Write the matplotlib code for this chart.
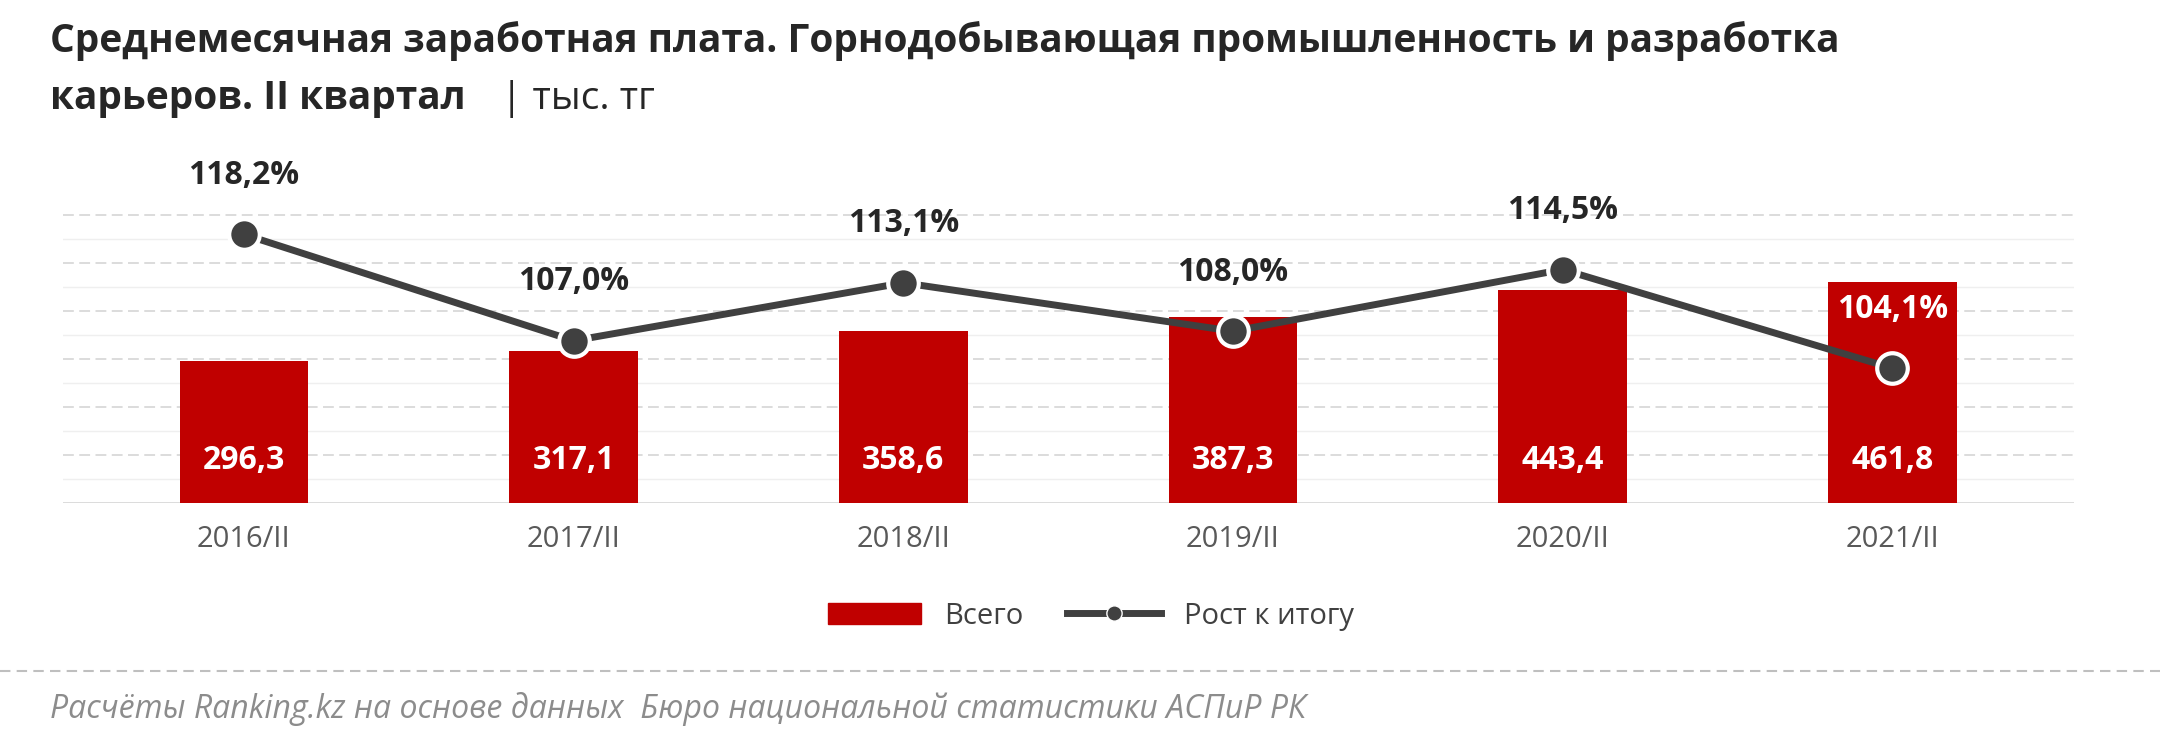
import matplotlib
matplotlib.use("Agg")
import matplotlib.pyplot as plt
from matplotlib.lines import Line2D
from matplotlib.patches import Patch

plt.rcParams['font.family'] = ['Open Sans', 'DejaVu Sans']

categories = ["2016/II", "2017/II", "2018/II", "2019/II", "2020/II", "2021/II"]
totals = [296.3, 317.1, 358.6, 387.3, 443.4, 461.8]
growth = [118.2, 107.0, 113.1, 108.0, 114.5, 104.1]

fig = plt.figure(figsize=(21.6, 7.44), dpi=100)
ax = fig.add_axes([0.029, 0.324, 0.931, 0.389])
x = range(len(categories))
ax.bar(x, totals, width=0.39, color="#C00000", zorder=2)
ax.set_ylim(0, 604)
ax.set_xlim(-0.55, 5.55)
for yv in [100, 200, 300, 400, 500, 600]:
    ax.axhline(yv, color="#D9D9D9", lw=1.3, ls=(0, (6, 3)), zorder=0)
for yv in [50, 150, 250, 350, 450, 550]:
    ax.axhline(yv, color="#EFEFEF", lw=1, zorder=0)
for s in ax.spines.values():
    s.set_visible(False)
ax.axhline(0, color="#D9D9D9", lw=1.3, zorder=1)
ax.set_yticks([])
ax.set_xticks(list(x))
ax.set_xticklabels(categories, fontsize=21, color="#595959")
ax.tick_params(axis='x', length=0, pad=16)
for i, v in enumerate(totals):
    ax.text(i, 88, f"{v:.1f}".replace(".", ","), ha="center", va="center",
            color="white", fontsize=23, fontweight="bold", zorder=3)

ax2 = ax.twinx()
ax2.set_ylim(89.9, 120.4)
ax2.plot(list(x), growth, color="#404040", lw=5, zorder=4,
         marker="o", markersize=22, markerfacecolor="#404040",
         markeredgecolor="white", markeredgewidth=3)
ax2.set_yticks([])
for s in ax2.spines.values():
    s.set_visible(False)
for i, v in enumerate(growth):
    last = i == len(growth) - 1
    ax2.text(i, v + 6.2, f"{v:.1f}%".replace(".", ","),
             ha="center", va="center", fontsize=23, fontweight="bold",
             color="white" if last else "#262626", zorder=5)

fig.text(0.023, 0.945, "Среднемесячная заработная плата. Горнодобывающая промышленность и разработка",
         fontsize=28, fontweight="bold", color="#262626", va="center")
t2 = fig.text(0.023, 0.867, "карьеров. II квартал", fontsize=28, fontweight="bold",
              color="#262626", va="center")
fig.text(0.232, 0.867, "| тыс. тг", fontsize=28, color="#262626", va="center")

handles = [Patch(color="#C00000"),
           Line2D([0], [0], color="#404040", lw=5, marker="o", markersize=11,
                  markerfacecolor="#404040", markeredgecolor="white")]
fig.legend(handles, ["Всего", "Рост к итогу"], loc="center", bbox_to_anchor=(0.505, 0.172),
           ncol=2, frameon=False, fontsize=21, handlelength=3.2, columnspacing=1.5,
           labelcolor="#404040")

fig.add_artist(Line2D([0.0, 1.0], [0.098, 0.098], color="#BFBFBF", lw=1.5,
                      ls=(0, (5, 3)), transform=fig.transFigure))
fig.text(0.023, 0.047, "Расчёты Ranking.kz на основе данных  Бюро национальной статистики АСПиР РК",
         fontsize=23, style="italic", color="#8C8C8C", va="center")

fig.savefig("out.png", dpi=100)
